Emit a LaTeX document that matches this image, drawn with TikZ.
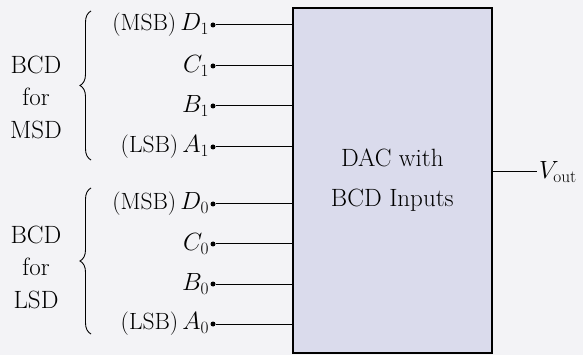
\documentclass[tikz,border=0pt]{standalone}
\usetikzlibrary{decorations.pathreplacing}
\definecolor{bgc}{RGB}{243,243,246}
\definecolor{boxc}{RGB}{218,219,236}
\begin{document}
\begin{tikzpicture}[x=1pt,y=-1pt,
  lbl/.style={font=\fontsize{23.5}{31}\selectfont, inner sep=1pt},
  side/.style={font=\fontsize{25}{32.5}\selectfont, inner sep=0pt, align=center},
  pin/.style={circle, fill=black, inner sep=0pt, minimum size=5pt},
  wire/.style={line width=1pt},
  brc/.style={decorate, decoration={brace, amplitude=11pt, mirror}, line width=0.9pt}]
\fill[bgc] (0,0) rectangle (583,355);
\useasboundingbox (0,0) rectangle (583,355);
\node[draw, line width=1.6pt, fill=boxc, minimum width=199pt, minimum height=345pt, anchor=north west,
  align=center, font=\fontsize{25}{40}\selectfont] (dac) at (292,7) {DAC with\\BCD Inputs};
% pins
\foreach \n/\y in {d1/25, c1/66, b1/106, a1/147, d0/204, c0/244, b0/284, a0/324}{
  \node[pin] (\n) at (213,\y) {};
  \coordinate (\n e) at (292,\y);
  \draw[wire] (\n) -- (\n e);
}
\node[lbl, anchor=east] at (d1.west) {(MSB)$\,D_1$};
\node[lbl, anchor=east] at (c1.west) {$C_1$};
\node[lbl, anchor=east] at (b1.west) {$B_1$};
\node[lbl, anchor=east] at (a1.west) {(LSB)$\,A_1$};
\node[lbl, anchor=east] at (d0.west) {(MSB)$\,D_0$};
\node[lbl, anchor=east] at (c0.west) {$C_0$};
\node[lbl, anchor=east] at (b0.west) {$B_0$};
\node[lbl, anchor=east] at (a0.west) {(LSB)$\,A_0$};
% braces
\draw[brc] (91,11) -- (91,160);
\draw[brc] (91,188) -- (91,334);
\node[side] (msd) at (36,97) {BCD\\for\\MSD};
\node[side] (lsd) at (36,267) {BCD\\for\\LSD};
% output
\coordinate (out) at (537,172);
\draw[wire] (dac.east |- out) -- (out);
\node[lbl, anchor=west, inner sep=2pt, font=\fontsize{23}{30}\selectfont] (vout) at (out) {$V_{\mathrm{out}}$};
\end{tikzpicture}
\end{document}
